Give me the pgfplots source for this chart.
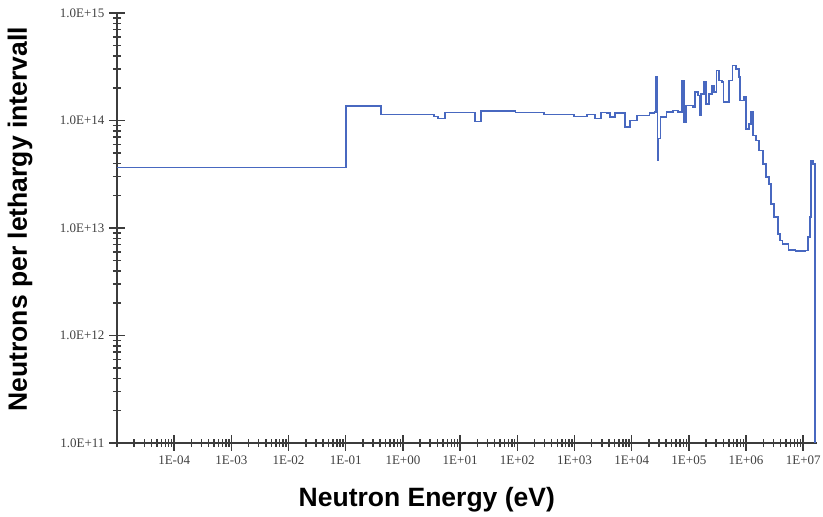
\documentclass[border=0pt]{standalone}
\usepackage{fontspec}
\setmainfont{Liberation Serif}
\newfontfamily\arial{Liberation Sans}
\usepackage{pgfplots}
\pgfplotsset{compat=1.18}

\definecolor{fluxblue}{RGB}{72,104,192}
\definecolor{axgray}{RGB}{60,60,60}

% minor ticks 2..9 in every decade
\def\mxt{1e-5}
\foreach \e in {-5,...,7}{\foreach \m in {2,...,9}{\xdef\mxt{\mxt,\m e\e}}}
\def\myt{1e11}
\foreach \e in {11,...,14}{\foreach \m in {2,...,9}{\xdef\myt{\myt,\m e\e}}}

\begin{document}
\begin{tikzpicture}
\begin{loglogaxis}[
    scale only axis,
    width=700pt,
    height=430pt,
    xmin=1e-5, xmax=1.74e7,
    ymin=1e11, ymax=1e15,
    axis x line=bottom,
    axis y line=left,
    axis line style={-, draw=axgray, line width=1.8pt},
    xtick={1e-4,1e-3,1e-2,1e-1,1e0,1e1,1e2,1e3,1e4,1e5,1e6,1e7},
    xticklabels={1E-04,1E-03,1E-02,1E-01,1E+00,1E+01,1E+02,1E+03,1E+04,1E+05,1E+06,1E+07},
    ytick={1e11,1e12,1e13,1e14,1e15},
    yticklabels={1.0E+11,1.0E+12,1.0E+13,1.0E+14,1.0E+15},
    minor xtick/.expanded={\mxt},
    minor ytick/.expanded={\myt},
    tick align=center,
    major tick length=16pt,
    minor tick length=8pt,
    every tick/.style={draw=axgray, line width=1.5pt},
    tick label style={font=\fontsize{13}{13}\selectfont, text=black!75},
    xticklabel style={yshift=-1pt},
    yticklabel style={xshift=-1pt},
    every axis x label/.style={at={(axis description cs:0.4426,0)}, anchor=center, yshift=-57pt},
    every axis y label/.style={at={(axis description cs:-0.1386,0.52)}, rotate=90, anchor=center},
    label style={font=\arial\bfseries\fontsize{26.5}{31}\selectfont},
    xlabel={Neutron Energy (eV)},
    ylabel={Neutrons per lethargy intervall},
]
\coordinate (O) at (rel axis cs:0,0);
\coordinate (T) at (rel axis cs:1,1);
\addplot[const plot mark left, draw=fluxblue, line width=1.8pt, no marks] coordinates {
(1e-5,3.65e13)
(0.1,1.364e14)
(0.42,1.137e14)
(3.51,1.089e14)
(4.12,1.044e14)
(5.45,1.187e14)
(18.1,9.79e13)
(23.0,1.22e14)
(93.1,1.187e14)
(297,1.137e14)
(985,1.089e14)
(1655,1.137e14)
(2280,1.044e14)
(2897,1.187e14)
(3681,1.169e14)
(4150,1.073e14)
(5070,1.169e14)
(7655,8.66e13)
(9350,1.0e14)
(12220,1.113e14)
(20560,1.169e14)
(25070,1.195e14)
(26620,2.527e14)
(28250,4.246e13)
(29420,6.80e13)
(31850,1.073e14)
(40530,1.195e14)
(53580,1.239e14)
(65460,1.195e14)
(76770,2.355e14)
(83180,9.64e13)
(90130,1.379e14)
(119200,1.33e14)
(126500,1.834e14)
(145500,1.709e14)
(154500,1.113e14)
(164000,1.772e14)
(184900,2.272e14)
(200400,1.43e14)
(225900,1.772e14)
(254700,2.117e14)
(276000,1.834e14)
(304900,2.918e14)
(337300,2.355e14)
(380200,2.272e14)
(403600,1.48e14)
(502700,2.355e14)
(578100,3.248e14)
(665300,3.026e14)
(749900,2.527e14)
(779900,1.535e14)
(916200,1.647e14)
(993100,8.37e13)
(1.119e6,9.32e13)
(1.211e6,1.195e14)
(1.312e6,7.25e13)
(1.479e6,6.516e13)
(1.667e6,5.26e13)
(1.958e6,3.956e13)
(2.208e6,2.97e13)
(2.489e6,2.578e13)
(2.697e6,1.68e13)
(3.04e6,1.261e13)
(3.566e6,8.83e12)
(3.864e6,7.65e12)
(4.355e6,7.13e12)
(5.535e6,6.27e12)
(7.33e6,6.08e12)
(1.092e7,6.18e12)
(1.216e7,8.21e12)
(1.333e7,1.261e13)
(1.388e7,4.246e13)
(1.503e7,3.956e13)
(1.584e7,2.97e13)
(1.63e7,1e11)
};
\end{loglogaxis}
\pgfresetboundingbox
\path[use as bounding box] ([xshift=-117pt,yshift=-74pt]O) rectangle ([xshift=6pt,yshift=13pt]T);
\end{tikzpicture}
\end{document}
